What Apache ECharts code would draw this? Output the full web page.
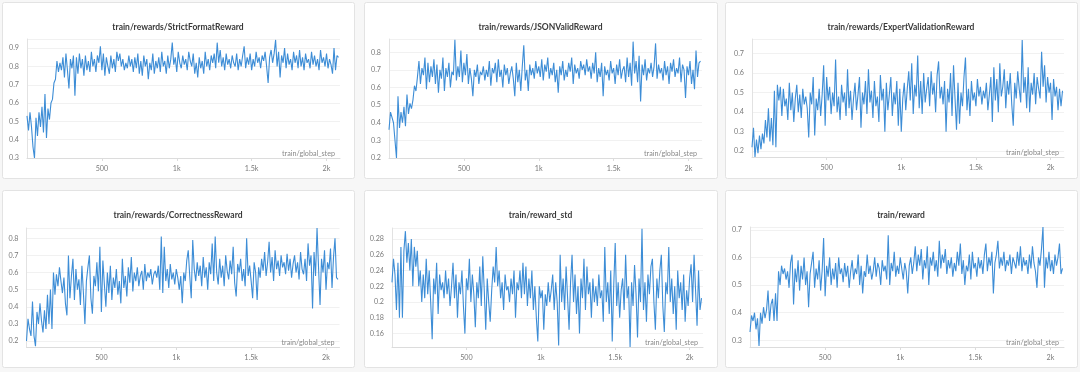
<!DOCTYPE html>
<html>
<head>
<meta charset="utf-8">
<script src="https://cdn.jsdelivr.net/npm/echarts@6/dist/echarts.min.js"></script>
<style>
html,body{margin:0;padding:0;background:#f7f7f7;}
#c{width:1080px;height:372px;}
</style>
</head>
<body>
<div id="c"></div>
<script>
// ---- data (one value per 10 training steps) ----
const titles = ['train/rewards/StrictFormatReward','train/rewards/JSONValidReward','train/rewards/ExpertValidationReward','train/rewards/CorrectnessReward','train/reward_std','train/reward'];
const xTickLabels = {500:'500',1000:'1k',1500:'1.5k',2000:'2k'};
const xAxisName = 'train/global_step';

const strictFormat = [0.53,0.45,0.55,0.47,0.36,0.30,0.52,0.42,0.55,0.47,0.58,0.44,0.65,0.41,0.57,0.51,0.60,0.62,0.71,0.73,
0.83,0.77,0.82,0.78,0.85,0.74,0.87,0.78,0.68,0.84,0.79,0.86,0.64,0.85,0.76,0.87,0.79,0.84,0.75,0.86,
0.78,0.83,0.77,0.88,0.80,0.84,0.77,0.86,0.82,0.91,0.78,0.87,0.75,0.85,0.80,0.76,0.86,0.79,0.84,0.77,
0.88,0.83,0.87,0.80,0.84,0.78,0.82,0.79,0.86,0.80,0.84,0.77,0.85,0.79,0.87,0.76,0.83,0.75,0.86,0.80,
0.84,0.73,0.82,0.78,0.87,0.76,0.83,0.79,0.85,0.77,0.88,0.80,0.83,0.76,0.86,0.79,0.84,0.93,0.81,0.85,
0.77,0.88,0.82,0.79,0.86,0.81,0.84,0.78,0.88,0.83,0.80,0.87,0.76,0.82,0.74,0.85,0.79,0.83,0.76,0.88,
0.80,0.84,0.78,0.86,0.82,0.87,0.79,0.93,0.82,0.89,0.80,0.85,0.78,0.87,0.81,0.84,0.79,0.86,0.82,0.80,
0.87,0.78,0.84,0.80,0.86,0.91,0.79,0.85,0.81,0.87,0.78,0.84,0.80,0.88,0.82,0.85,0.79,0.86,0.83,0.88,
0.80,0.71,0.85,0.89,0.82,0.87,0.945,0.80,0.88,0.74,0.86,0.82,0.90,0.79,0.87,0.81,0.84,0.78,0.88,0.82,
0.86,0.79,0.89,0.80,0.85,0.78,0.87,0.82,0.84,0.79,0.88,0.81,0.86,0.80,0.84,0.78,0.89,0.82,0.85,0.80,
0.87,0.79,0.84,0.81,0.76,0.90,0.78,0.86,0.85];

const jsonValid = [0.36,0.46,0.43,0.40,0.30,0.20,0.55,0.37,0.46,0.40,0.49,0.38,0.56,0.45,0.51,0.48,0.53,0.61,0.58,0.66,
0.75,0.62,0.71,0.67,0.77,0.59,0.74,0.63,0.72,0.66,0.76,0.62,0.73,0.57,0.70,0.65,0.77,0.58,0.71,0.66,
0.74,0.60,0.69,0.67,0.87,0.64,0.72,0.66,0.81,0.63,0.74,0.67,0.79,0.62,0.71,0.65,0.55,0.70,0.66,0.73,
0.62,0.69,0.67,0.72,0.64,0.70,0.66,0.75,0.61,0.71,0.68,0.74,0.63,0.76,0.66,0.70,0.60,0.73,0.67,0.71,
0.62,0.68,0.72,0.65,0.55,0.74,0.63,0.70,0.58,0.72,0.84,0.64,0.70,0.58,0.73,0.67,0.71,0.65,0.75,0.68,
0.72,0.66,0.76,0.64,0.73,0.69,0.77,0.65,0.71,0.67,0.74,0.63,0.70,0.57,0.72,0.67,0.75,0.64,0.70,0.66,
0.74,0.69,0.77,0.62,0.73,0.68,0.71,0.65,0.75,0.70,0.73,0.67,0.76,0.69,0.72,0.65,0.74,0.68,0.80,0.63,
0.71,0.66,0.74,0.55,0.72,0.67,0.70,0.64,0.75,0.68,0.71,0.62,0.73,0.67,0.76,0.65,0.70,0.72,0.63,0.77,
0.66,0.74,0.61,0.86,0.68,0.75,0.63,0.78,0.52,0.73,0.67,0.76,0.64,0.71,0.68,0.74,0.66,0.72,0.85,0.65,
0.73,0.68,0.71,0.64,0.75,0.67,0.72,0.62,0.74,0.69,0.76,0.66,0.71,0.68,0.77,0.63,0.73,0.70,0.54,0.72,
0.67,0.75,0.62,0.70,0.59,0.81,0.66,0.74,0.75];

const expertValidation = [0.22,0.32,0.17,0.26,0.19,0.28,0.21,0.29,0.24,0.36,0.27,0.42,0.25,0.37,0.23,0.51,0.22,0.54,0.46,0.53,
0.38,0.52,0.43,0.47,0.36,0.55,0.41,0.50,0.35,0.47,0.54,0.40,0.49,0.37,0.52,0.44,0.48,0.42,0.27,0.50,
0.44,0.58,0.28,0.47,0.41,0.52,0.38,0.49,0.64,0.33,0.58,0.46,0.53,0.39,0.50,0.43,0.67,0.40,0.48,0.36,
0.54,0.45,0.50,0.38,0.62,0.42,0.51,0.36,0.47,0.55,0.41,0.49,0.58,0.32,0.50,0.44,0.56,0.39,0.62,0.45,
0.51,0.37,0.56,0.43,0.48,0.35,0.59,0.46,0.52,0.30,0.55,0.41,0.49,0.58,0.38,0.50,0.44,0.56,0.33,0.52,
0.30,0.47,0.55,0.41,0.52,0.61,0.46,0.65,0.39,0.54,0.48,0.69,0.42,0.56,0.39,0.60,0.45,0.52,0.58,0.43,
0.61,0.49,0.55,0.40,0.59,0.66,0.47,0.53,0.44,0.56,0.30,0.52,0.45,0.60,0.38,0.64,0.47,0.31,0.55,0.34,
0.50,0.43,0.58,0.68,0.41,0.52,0.38,0.56,0.46,0.50,0.43,0.57,0.48,0.53,0.44,0.51,0.47,0.55,0.41,0.49,
0.58,0.35,0.63,0.46,0.57,0.40,0.65,0.48,0.53,0.62,0.42,0.56,0.49,0.60,0.44,0.33,0.55,0.47,0.61,0.52,
0.45,0.77,0.50,0.58,0.42,0.63,0.40,0.55,0.49,0.60,0.44,0.58,0.52,0.47,0.71,0.53,0.64,0.45,0.58,0.50,
0.55,0.36,0.57,0.48,0.53,0.41,0.52,0.43,0.51];

const correctness = [0.20,0.33,0.27,0.23,0.43,0.23,0.17,0.37,0.30,0.42,0.32,0.25,0.38,0.27,0.47,0.30,0.50,0.27,0.60,0.47,
0.59,0.52,0.63,0.55,0.48,0.57,0.42,0.35,0.70,0.45,0.58,0.68,0.44,0.62,0.50,0.56,0.41,0.64,0.48,0.30,
0.55,0.63,0.70,0.45,0.36,0.58,0.52,0.66,0.49,0.75,0.37,0.67,0.53,0.40,0.60,0.48,0.64,0.44,0.57,0.51,
0.62,0.47,0.55,0.42,0.68,0.51,0.58,0.46,0.63,0.54,0.69,0.49,0.60,0.55,0.63,0.52,0.58,0.61,0.50,0.65,
0.55,0.60,0.57,0.62,0.53,0.59,0.61,0.57,0.64,0.50,0.81,0.48,0.75,0.55,0.62,0.51,0.65,0.56,0.60,0.53,
0.62,0.57,0.50,0.58,0.42,0.60,0.55,0.67,0.73,0.58,0.45,0.79,0.62,0.55,0.66,0.58,0.64,0.52,0.69,0.57,
0.63,0.50,0.66,0.59,0.77,0.55,0.81,0.60,0.53,0.68,0.57,0.64,0.52,0.70,0.61,0.56,0.67,0.59,0.75,0.54,
0.46,0.65,0.60,0.68,0.55,0.62,0.52,0.80,0.58,0.64,0.55,0.45,0.66,0.60,0.44,0.63,0.57,0.68,0.61,0.72,
0.58,0.66,0.78,0.60,0.69,0.55,0.73,0.62,0.67,0.58,0.70,0.63,0.66,0.59,0.71,0.61,0.68,0.57,0.65,0.70,
0.60,0.66,0.56,0.72,0.62,0.59,0.68,0.55,0.77,0.64,0.70,0.39,0.72,0.58,0.86,0.63,0.41,0.68,0.60,0.73,
0.50,0.66,0.62,0.74,0.51,0.69,0.80,0.57,0.56];

const rewardStd = [0.225,0.255,0.235,0.19,0.25,0.18,0.27,0.18,0.265,0.29,0.25,0.275,0.24,0.28,0.22,0.27,0.245,0.265,0.22,0.24,
0.20,0.235,0.205,0.255,0.21,0.24,0.20,0.153,0.23,0.21,0.25,0.185,0.235,0.215,0.225,0.205,0.24,0.21,0.23,0.195,
0.22,0.25,0.205,0.235,0.18,0.225,0.21,0.24,0.195,0.16,0.23,0.215,0.255,0.20,0.235,0.21,0.168,0.225,0.205,0.245,
0.195,0.258,0.215,0.165,0.23,0.20,0.175,0.215,0.245,0.225,0.27,0.22,0.24,0.205,0.225,0.19,0.235,0.215,0.22,0.20,
0.23,0.21,0.24,0.18,0.225,0.215,0.24,0.205,0.25,0.21,0.245,0.195,0.23,0.205,0.24,0.19,0.22,0.18,0.15,0.22,
0.205,0.215,0.165,0.21,0.195,0.225,0.20,0.215,0.235,0.19,0.225,0.20,0.145,0.26,0.20,0.23,0.19,0.245,0.205,0.165,
0.225,0.26,0.20,0.235,0.185,0.22,0.16,0.23,0.205,0.255,0.19,0.245,0.21,0.225,0.18,0.23,0.20,0.22,0.195,0.235,
0.205,0.215,0.175,0.27,0.20,0.225,0.185,0.24,0.15,0.22,0.275,0.195,0.225,0.18,0.215,0.23,0.19,0.26,0.205,0.22,
0.143,0.225,0.195,0.247,0.21,0.155,0.23,0.20,0.293,0.19,0.225,0.175,0.235,0.21,0.245,0.255,0.20,0.165,0.23,0.205,
0.24,0.26,0.195,0.162,0.225,0.21,0.27,0.20,0.23,0.185,0.22,0.165,0.24,0.205,0.225,0.19,0.235,0.175,0.215,0.195,
0.23,0.248,0.20,0.26,0.215,0.17,0.24,0.19,0.205];

const reward = [0.33,0.39,0.37,0.40,0.34,0.38,0.28,0.40,0.36,0.42,0.38,0.41,0.48,0.37,0.43,0.45,0.37,0.47,0.37,0.55,
0.50,0.57,0.54,0.56,0.52,0.55,0.49,0.58,0.61,0.43,0.56,0.51,0.59,0.48,0.57,0.52,0.60,0.50,0.55,0.42,
0.54,0.58,0.62,0.49,0.56,0.52,0.59,0.48,0.55,0.67,0.46,0.57,0.53,0.60,0.50,0.56,0.52,0.58,0.49,0.60,
0.54,0.56,0.51,0.58,0.53,0.57,0.49,0.55,0.59,0.52,0.56,0.54,0.61,0.50,0.57,0.47,0.55,0.53,0.61,0.54,
0.57,0.52,0.55,0.60,0.53,0.58,0.56,0.50,0.59,0.55,0.57,0.52,0.68,0.50,0.58,0.55,0.62,0.53,0.57,0.54,
0.60,0.56,0.52,0.58,0.55,0.47,0.57,0.60,0.54,0.58,0.64,0.55,0.61,0.57,0.63,0.52,0.59,0.56,0.64,0.50,
0.60,0.57,0.62,0.55,0.59,0.53,0.66,0.56,0.61,0.58,0.63,0.54,0.59,0.56,0.60,0.53,0.58,0.55,0.62,0.57,
0.65,0.54,0.59,0.50,0.57,0.55,0.61,0.52,0.62,0.56,0.58,0.53,0.60,0.56,0.59,0.54,0.61,0.65,0.55,0.60,
0.57,0.62,0.47,0.58,0.61,0.66,0.56,0.60,0.57,0.62,0.55,0.59,0.57,0.61,0.54,0.60,0.58,0.56,0.62,0.57,
0.64,0.55,0.60,0.57,0.59,0.54,0.61,0.56,0.64,0.58,0.55,0.49,0.60,0.57,0.63,0.71,0.49,0.60,0.56,0.62,
0.55,0.59,0.54,0.61,0.57,0.60,0.65,0.54,0.56];

const seriesList = [strictFormat, jsonValid, expertValidation, correctness, rewardStd, reward];
const stepEvery = 10;

// ---- layout ----
const layout = [
  {box:[2,2,352,176],   grid:{left:27,  top:39,  width:313, height:119}, min:0.3,   max:0.95,  iv:0.1},
  {box:[364,2,353,176], grid:{left:389, top:39,  width:313, height:119}, min:0.2,   max:0.875, iv:0.1},
  {box:[725,2,352,176], grid:{left:752, top:39,  width:312, height:118}, min:0.17,  max:0.775, iv:0.1},
  {box:[2,190,352,177], grid:{left:26.5,top:228, width:313, height:119}, min:0.165, max:0.86,  iv:0.1},
  {box:[364,190,353,177],grid:{left:392,top:228, width:311, height:119}, min:0.143, max:0.294, iv:0.02},
  {box:[725,190,352,177],grid:{left:750,top:227, width:314, height:120}, min:0.276, max:0.71,  iv:0.1}
];
const XMAX = 2090;
const FONT = 'Lato, "Open Sans", sans-serif';
const LINE = '#3d8dd6';

const option = {
  animation:false,
  backgroundColor:'#f7f7f7',
  graphic: layout.map(p => ({type:'rect', z:-10, silent:true,
    shape:{x:p.box[0]+0.5, y:p.box[1]+0.5, width:p.box[2], height:p.box[3], r:2},
    style:{fill:'#ffffff', stroke:'#e3e3e3', lineWidth:1}})),
  title: layout.map((p,i) => ({text:titles[i], left:p.box[0]+p.box[2]/2, top:p.box[1]+21, textAlign:'center', padding:0,
    textStyle:{fontFamily:FONT, fontSize:8.5, fontWeight:'bold', color:'#3a3a3a'}})),
  grid: layout.map(p => Object.assign({containLabel:false}, p.grid)),
  xAxis: layout.map((p,i) => ({type:'value', gridIndex:i, min:0, max:XMAX, interval:500,
    name:xAxisName, nameLocation:'end', nameGap:-5,
    nameTextStyle:{fontFamily:FONT, fontSize:7.2, color:'#8a8a8a', align:'right', verticalAlign:'bottom', padding:[0,0,1,0]},
    axisLine:{lineStyle:{color:'#dcdcdc'}},
    axisTick:{show:true, length:3, lineStyle:{color:'#dcdcdc'}},
    splitLine:{show:false},
    axisLabel:{fontFamily:FONT, fontSize:7.2, color:'#7a7a7a', margin:7, showMinLabel:false, showMaxLabel:false,
      formatter:v => xTickLabels[v] || ''}})),
  yAxis: layout.map((p,i) => ({type:'value', gridIndex:i, min:p.min, max:p.max, minInterval:p.iv, maxInterval:p.iv,
    axisLine:{show:true, lineStyle:{color:'#e2e2e2'}},
    axisTick:{show:false},
    splitLine:{show:true, lineStyle:{color:'#f1f1f1'}},
    axisLabel:{fontFamily:FONT, fontSize:7.2, color:'#7a7a7a', margin:8,
      formatter:v => {const k=v/p.iv; return Math.abs(k-Math.round(k))<1e-6 ? String(parseFloat(v.toFixed(2))) : '';}}})),
  series: seriesList.map((vals,i) => ({type:'line', xAxisIndex:i, yAxisIndex:i, showSymbol:false, symbol:'none',
    lineStyle:{color:LINE, width:1.1}, itemStyle:{color:LINE}, clip:true,
    data: vals.map((v,k) => [k*stepEvery, v])}))
};
const chart = echarts.init(document.getElementById('c'), null, {renderer:'canvas'});
chart.setOption(option);
</script>
</body>
</html>
